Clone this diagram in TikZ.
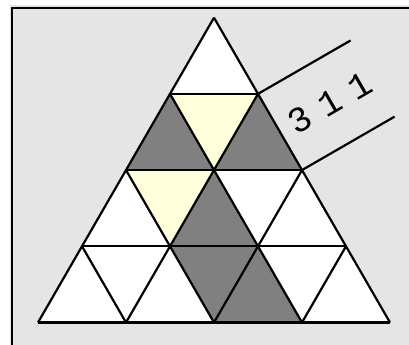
\documentclass[tikz,border=0pt]{standalone}
\usepackage{fontspec}
\usepackage{tikz}
\usetikzlibrary{positioning}
\usepackage{xcolor}
\newfontfamily\digitfont{Liberation Mono}
\definecolor{panelgray}{HTML}{E5E5E5}
\definecolor{palecream}{HTML}{FFFFDC}
\definecolor{midgray}{HTML}{808080}

\begin{document}
\begin{tikzpicture}[
    x=44pt, y=44pt,
    grid/.style={line width=2.2pt},
    shade/.style={fill=midgray},
    cream/.style={fill=palecream},
    frameline/.style={line width=2pt}
]

    % Canvas and panel
    \useasboundingbox (-4.864,0.402) rectangle (4.432,-7.439);
    \fill[panelgray] (-4.636,0.289) rectangle (4.432,-7.439);
    \draw[frameline] (-4.59,-7.439) -- (-4.59,0.22) -- (4.432,0.22);

    % Define coordinates
    % Apex
    \coordinate (a) at (0,0);

    % Second row
    \coordinate (b1) at (-1,-1.732);
    \coordinate (b2) at (1,-1.732);

    % Third row
    \coordinate (c1) at (-2,-3.464);
    \coordinate (c2) at (0,-3.464);
    \coordinate (c3) at (2,-3.464);

    % Fourth row
    \coordinate (d1) at (-3,-5.196);
    \coordinate (d2) at (-1,-5.196);
    \coordinate (d3) at (1,-5.196);
    \coordinate (d4) at (3,-5.196);

    % Base row
    \coordinate (e1) at (-4,-6.928);
    \coordinate (e2) at (-2,-6.928);
    \coordinate (e3) at (0,-6.928);
    \coordinate (e4) at (2,-6.928);
    \coordinate (e5) at (4,-6.928);

    % Ends of the side marker
    \coordinate (u) at (3.105,-0.517);
    \coordinate (v) at (4.105,-2.249);

    % Fill the big triangle
    \fill[white] (a) -- (e1) -- (e5) -- cycle;

    % Pale cells
    \fill[cream] (b1) -- (b2) -- (c2) -- cycle;
    \fill[cream] (c1) -- (c2) -- (d2) -- cycle;

    % Dark cells
    \fill[shade] (b1) -- (c1) -- (c2) -- cycle;
    \fill[shade] (b2) -- (c2) -- (c3) -- cycle;
    \fill[shade] (c2) -- (d2) -- (d3) -- cycle;
    \fill[shade] (d2) -- (d3) -- (e3) -- cycle;
    \fill[shade] (d3) -- (e3) -- (e4) -- cycle;

    % Horizontal lines
    \draw[grid] (b1) -- (b2);
    \draw[grid] (c1) -- (c3);
    \draw[grid] (d1) -- (d4);
    \draw[grid] (e1) -- (e5);

    % Lines parallel to the left side
    \draw[grid] (a) -- (e1);
    \draw[grid] (b2) -- (e2);
    \draw[grid] (c3) -- (e3);
    \draw[grid] (d4) -- (e4);

    % Lines parallel to the right side
    \draw[grid] (a) -- (e5);
    \draw[grid] (b1) -- (e4);
    \draw[grid] (c1) -- (e3);
    \draw[grid] (d1) -- (e2);

    % Side marker
    \draw[grid] (b2) -- (u);
    \draw[grid] (c3) -- (v);
    \node[rotate=30, inner sep=0pt] (count) at (2.643,-1.938)
        {\digitfont\fontsize{36}{36}\selectfont\spaceskip=13pt 3 1 1};
\end{tikzpicture}
\end{document}
